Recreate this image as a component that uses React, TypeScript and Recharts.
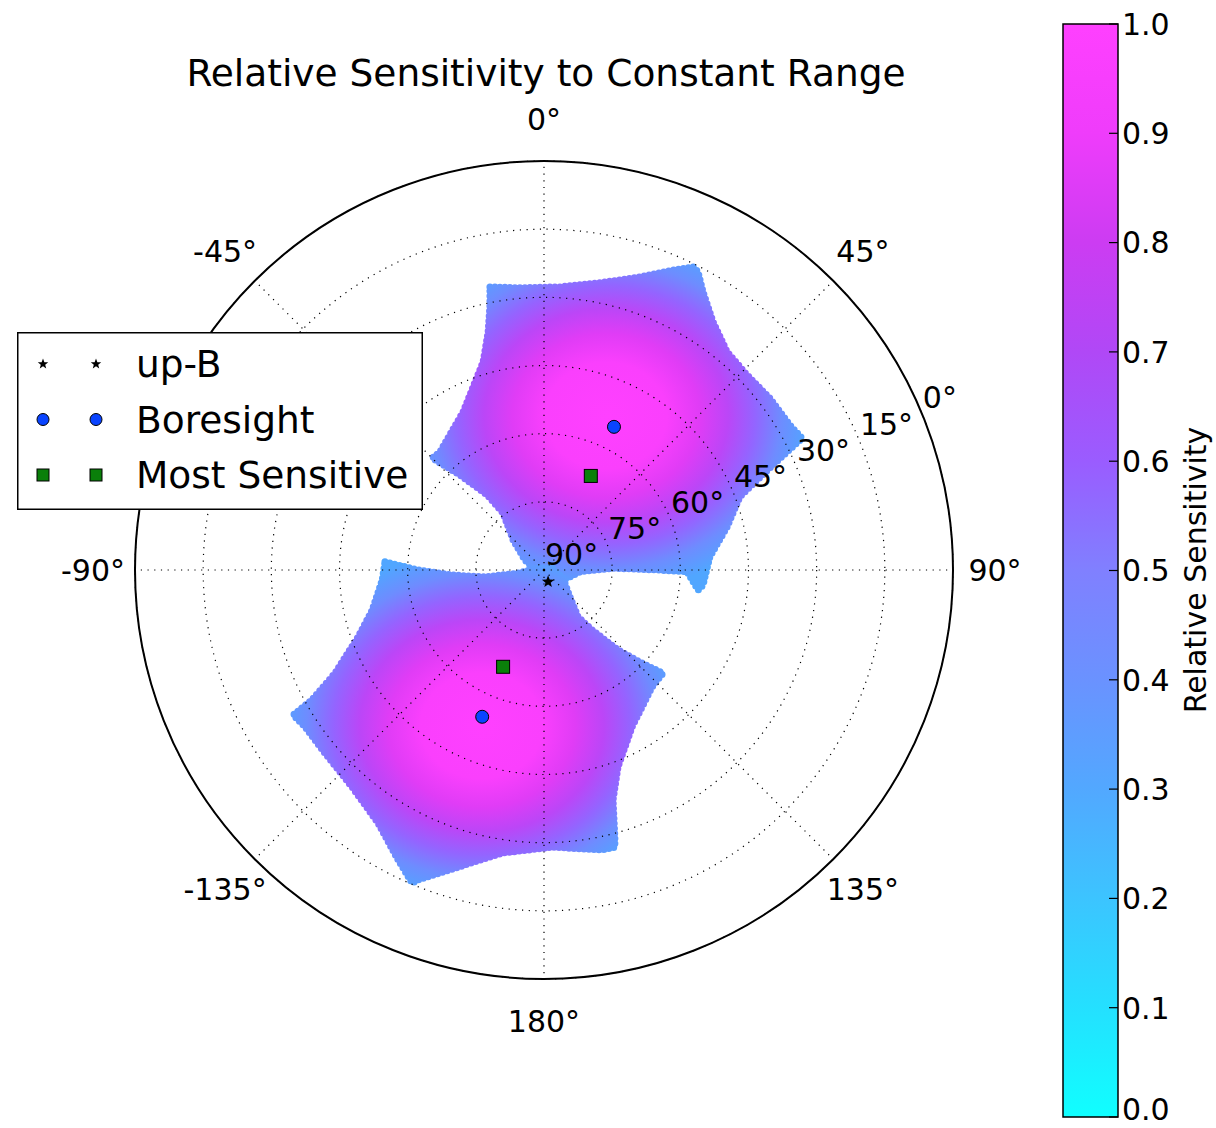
import React from 'react';
import {
  ScatterChart,
  Scatter,
  XAxis,
  YAxis,
  Legend,
  RadarChart,
  Radar,
  PolarGrid,
  PolarAngleAxis,
  PolarRadiusAxis,
  BarChart,
  Bar,
} from 'recharts';

const FONT = '"DejaVu Sans", "Bitstream Vera Sans", sans-serif';

// Sky positions in degrees away from zenith (90° elevation at the centre).
// x points towards azimuth 90°, y towards azimuth 0°.
const upperLobe: [number, number][] = [
  [-11.9, 62.3], [-5.3, 62.1], [3.5, 62.3], [12.3, 63.2], [21.1, 64.5], [28.4, 66.0], [32.8, 66.7],
  [33.9, 65.6], [35.0, 61.2], [37.2, 54.6], [40.3, 48.0], [44.7, 42.9], [49.7, 37.8], [54.1, 31.9], [56.8, 29.0],
  [53.5, 26.0], [46.9, 19.8], [43.1, 16.1], [40.3, 9.5], [36.5, 2.9], [35.0, -3.3], [33.9, -4.4],
  [31.5, -0.4], [24.9, 0.0], [15.2, 0.4], [7.9, -0.4], [5.1, -1.8], [1.3, -3.1],
  [-1.5, -0.4], [-4.2, 2.2], [-6.8, 6.6], [-9.0, 12.5], [-12.5, 16.5], [-18.5, 20.9], [-24.6, 24.6],
  [-22.9, 26.0], [-17.8, 34.8], [-13.4, 45.8], [-12.3, 52.4], [-11.9, 58.3],
];

const lowerLobe: [number, number][] = [
  [-35.0, 1.8], [-27.7, 0.0], [-20.2, -1.1], [-13.0, -1.5], [-5.7, -0.7], [-1.5, 0.4], [1.8, 0.4],
  [4.2, -1.8], [5.7, -5.9], [7.5, -10.3], [10.6, -13.2], [16.3, -17.6], [21.6, -20.5], [26.2, -22.7],
  [23.8, -25.7], [19.4, -34.5], [16.3, -43.3], [15.2, -50.6], [15.6, -58.8], [15.6, -61.0],
  [12.8, -61.6], [1.8, -61.0], [-9.2, -62.3], [-18.9, -65.4], [-27.7, -68.2], [-29.0, -68.9],
  [-32.1, -63.8], [-36.5, -55.7], [-42.2, -47.8], [-48.2, -40.3], [-52.6, -34.5], [-55.2, -31.9],
  [-51.1, -28.6], [-46.0, -22.7], [-40.9, -14.7], [-37.8, -8.8], [-35.6, -2.2],
];

const upB = [{ x: 0.9, y: -2.6 }];
const boresight = [{ x: 15.4, y: 31.5 }, { x: -13.6, y: -32.3 }];
const mostSensitive = [{ x: 10.3, y: 20.7 }, { x: -9.0, y: -21.3 }];

const legendOrder = ['up-B', 'Boresight', 'Most Sensitive'];
const azimuthLabels = ['0°', '45°', '90°', '135°', '180°', '-135°', '-90°', '-45°'];
const colorbarTicks = [0, 0.1, 0.2, 0.3, 0.4, 0.5, 0.6, 0.7, 0.8, 0.9, 1.0];

// cool colormap as it appears in the figure
const coolStops: [number, string][] = [
  [0, '#10ffff'], [0.1, '#24e0ff'], [0.2, '#3cc4ff'], [0.3, '#52a8ff'], [0.4, '#6a92ff'],
  [0.5, '#8080ff'], [0.6, '#9a5cff'], [0.7, '#b048f6'], [0.8, '#cc3cf2'], [0.9, '#ef3cfb'], [1, '#ff40ff'],
];

// radial falloff inside each lobe
const lobeStops: [number, string][] = [
  [0, '#ff40ff'], [0.3, '#fa3ffd'], [0.46, '#e03cf6'], [0.6, '#bb46f7'],
  [0.73, '#9464ff'], [0.86, '#6e8cff'], [1, '#50a6ff'],
];

const radarData = azimuthLabels.map((dir) => ({ dir, r: 0 }));
const colorbarData = [{ name: 'cb', value: 1 }];

const W = 1216;
const H = 1128;
const plotMargin = { top: 161, right: 263, bottom: 149, left: 135 };

const toPoints = (lobe: [number, number][]) => lobe.map(([x, y]) => ({ x, y }));

const noPoint = () => <g />;

const lobeLine = (gradId: string) => (props: any) => {
  const pts = props.points || [];
  const d = pts.map((p: any, i: number) => `${i ? 'L' : 'M'}${p.x},${p.y}`).join(' ') + ' Z';
  return (
    <g>
      <path d={d} fill={`url(#${gradId})`} stroke={`url(#${gradId})`} strokeWidth={3} strokeLinejoin="round" />
      <path d={d} fill="none" stroke={`url(#${gradId})`} strokeWidth={7} strokeDasharray="0 5" strokeLinecap="round" />
    </g>
  );
};

const starPath = (cx: number, cy: number, R: number, r: number) => {
  let d = '';
  for (let i = 0; i < 10; i++) {
    const rad = i % 2 === 0 ? R : r;
    const a = -Math.PI / 2 + (i * Math.PI) / 5;
    d += `${i ? 'L' : 'M'}${(cx + rad * Math.cos(a)).toFixed(2)},${(cy + rad * Math.sin(a)).toFixed(2)}`;
  }
  return d + 'Z';
};

const drawStar = (cx: number, cy: number, s: number) => <path d={starPath(cx, cy, s, s * 0.42)} fill="#000" />;
const drawCircle = (cx: number, cy: number, s: number) => (
  <circle cx={cx} cy={cy} r={s} fill="#0a44ff" stroke="#000" strokeWidth={1} />
);
const drawSquare = (cx: number, cy: number, s: number) => (
  <rect x={cx - s} y={cy - s} width={2 * s} height={2 * s} fill="#0a7f0a" stroke="#000" strokeWidth={1} />
);

const markers: Record<string, (cx: number, cy: number, s: number) => React.ReactElement> = {
  'up-B': drawStar,
  Boresight: drawCircle,
  'Most Sensitive': drawSquare,
};
const legendSize: Record<string, number> = { 'up-B': 5.5, Boresight: 6, 'Most Sensitive': 6 };

const renderLegend = (props: any) => {
  const items = (props.payload || [])
    .filter((p: any) => p.type !== 'none' && markers[p.value])
    .sort((a: any, b: any) => legendOrder.indexOf(a.value) - legendOrder.indexOf(b.value));
  return (
    <svg width={406} height={178} style={{ display: 'block' }}>
      <rect x={0.75} y={0.75} width={404.5} height={176.5} fill="#fff" stroke="#000" strokeWidth={1.5} />
      {items.map((item: any, i: number) => {
        const cy = 32 + i * 55.5;
        const m = markers[item.value];
        const s = legendSize[item.value];
        return (
          <g key={item.value}>
            {m(26, cy, s)}
            {m(79, cy, s)}
            <text x={119} y={cy + 13} fontSize={37.5} fontFamily={FONT} fill="#000">
              {item.value}
            </text>
          </g>
        );
      })}
    </svg>
  );
};

const AngleTick = (props: any) => (
  <text x={props.x} y={props.y} dy="0.36em" textAnchor="middle" fontSize={30} fontFamily={FONT} fill="#000">
    {props.payload.value}
  </text>
);

const RadiusTick = (props: any) => (
  <text x={props.x + 1} y={props.y - 5} textAnchor="start" fontSize={30} fontFamily={FONT} fill="#000">
    {`${90 - props.payload.value}°`}
  </text>
);

const ColorbarTick = (props: any) => {
  const { x, y, payload } = props;
  const v = Number(payload.value);
  return (
    <g>
      <line x1={x - 9} y1={y} x2={x} y2={y} stroke="#000" strokeWidth={1.2} />
      <text x={x + 4} y={v === 0 ? y - 8 : y} dy="0.36em" fontSize={30} fontFamily={FONT} fill="#000">
        {v.toFixed(1)}
      </text>
    </g>
  );
};

const gradient = (id: string, cx: number, cy: number) => (
  <radialGradient id={id} cx={cx} cy={cy} r={0.55} fx={cx} fy={cy}>
    {lobeStops.map(([o, c]) => (
      <stop key={o} offset={o} stopColor={c} />
    ))}
  </radialGradient>
);

const layer: React.CSSProperties = { position: 'absolute', left: 0, top: 0 };

export default function App() {
  return (
    <div style={{ position: 'absolute', left: 0, top: 0, width: W, height: H, background: '#fff', fontFamily: FONT }}>
      <svg width={0} height={0} style={{ position: 'absolute' }}>
        <defs>
          {gradient('upperGrad', 0.47, 0.46)}
          {gradient('lowerGrad', 0.51, 0.51)}
          <linearGradient id="cbGrad" x1="0" y1="1" x2="0" y2="0">
            {coolStops.map(([o, c]) => (
              <stop key={o} offset={o} stopColor={c} />
            ))}
          </linearGradient>
        </defs>
      </svg>

      {/* sensitivity lobes */}
      <div style={layer}>
        <ScatterChart width={W} height={H} margin={plotMargin}>
          <XAxis type="number" dataKey="x" domain={[-90, 90]} hide />
          <YAxis type="number" dataKey="y" domain={[-90, 90]} hide />
          <Scatter data={toPoints(upperLobe)} line={lobeLine('upperGrad')} shape={noPoint} legendType="none" isAnimationActive={false} />
          <Scatter data={toPoints(lowerLobe)} line={lobeLine('lowerGrad')} shape={noPoint} legendType="none" isAnimationActive={false} />
        </ScatterChart>
      </div>

      {/* polar grid */}
      <div style={layer}>
        <RadarChart
          width={W}
          height={H}
          cx={544}
          cy={570}
          outerRadius={409}
          startAngle={90}
          endAngle={-270}
          data={radarData}
          margin={{ top: 0, right: 0, bottom: 0, left: 0 }}
        >
          <PolarGrid gridType="circle" stroke="#000" strokeWidth={1.2} strokeDasharray="1.2 5.5" />
          <PolarAngleAxis
            dataKey="dir"
            tickSize={42}
            tickLine={false}
            axisLineType="circle"
            axisLine={{ stroke: '#000', strokeWidth: 2 }}
            tick={AngleTick}
          />
          <PolarRadiusAxis angle={22.5} type="number" domain={[0, 90]} tickCount={7} axisLine={false} tick={RadiusTick} />
          <Radar dataKey="r" stroke="none" fill="none" isAnimationActive={false} />
        </RadarChart>
      </div>

      {/* markers, legend, title */}
      <div style={layer}>
        <ScatterChart width={W} height={H} margin={plotMargin}>
          <XAxis type="number" dataKey="x" domain={[-90, 90]} hide />
          <YAxis type="number" dataKey="y" domain={[-90, 90]} hide />
          <Scatter name="up-B" data={upB} fill="#000" shape={(p: any) => drawStar(p.cx, p.cy, 6.5)} isAnimationActive={false} />
          <Scatter name="Boresight" data={boresight} fill="#0a44ff" shape={(p: any) => drawCircle(p.cx, p.cy, 6.5)} isAnimationActive={false} />
          <Scatter
            name="Most Sensitive"
            data={mostSensitive}
            fill="#0a7f0a"
            shape={(p: any) => drawSquare(p.cx, p.cy, 6.5)}
            isAnimationActive={false}
          />
          <Legend
            layout="vertical"
            align="center"
            verticalAlign="middle"
            content={renderLegend}
            wrapperStyle={{ left: 17, top: 332, width: 406, height: 178 }}
          />
          <text x={546} y={86} textAnchor="middle" fontSize={37.5} fontFamily={FONT} fill="#000">
            Relative Sensitivity to Constant Range
          </text>
        </ScatterChart>
      </div>

      {/* colorbar */}
      <div style={{ position: 'absolute', left: 1000, top: 0 }}>
        <BarChart width={216} height={H} data={colorbarData} margin={{ top: 24, right: 0, bottom: 11, left: 63 }} barCategoryGap={0}>
          <XAxis dataKey="name" hide />
          <YAxis
            orientation="right"
            type="number"
            domain={[0, 1]}
            ticks={colorbarTicks}
            interval={0}
            width={98}
            axisLine={false}
            tickLine={false}
            tickSize={0}
            tickMargin={0}
            tick={ColorbarTick}
          />
          <Bar dataKey="value" fill="url(#cbGrad)" stroke="#000" strokeWidth={1.5} isAnimationActive={false} />
          <text
            x={195}
            y={570}
            transform="rotate(-90 195 570)"
            textAnchor="middle"
            dy="0.36em"
            fontSize={30}
            fontFamily={FONT}
            fill="#000"
          >
            Relative Sensitivity
          </text>
        </BarChart>
      </div>
    </div>
  );
}
